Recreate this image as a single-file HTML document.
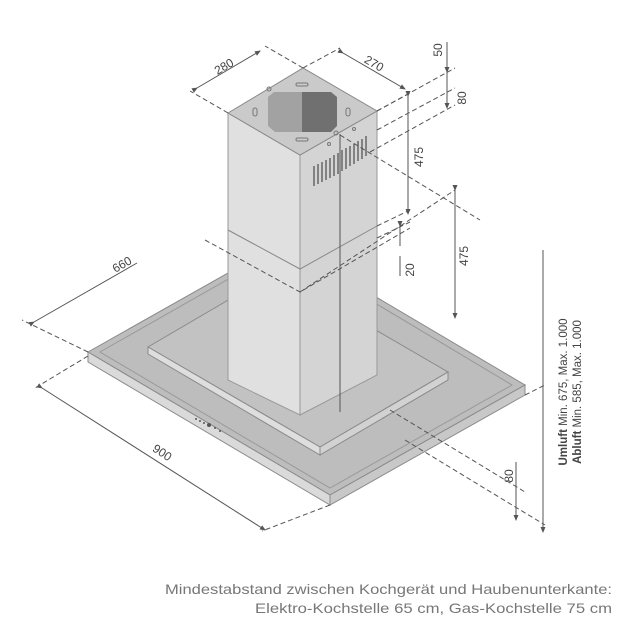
<!DOCTYPE html>
<html><head><meta charset="utf-8"><style>
html,body{margin:0;padding:0;background:#fff;}
svg{display:block;font-family:"Liberation Sans",sans-serif;}
</style></head><body>
<svg width="618" height="640" viewBox="0 0 618 640" xmlns="http://www.w3.org/2000/svg">
<defs>
<marker id="a" markerWidth="6" markerHeight="6" refX="5" refY="3" orient="auto"><path d="M0,0.5 L6,3 L0,5.5z" fill="#555"/></marker>
</defs>
<!-- canopy -->
<polygon points="88,352 283,242 525,385 330,495" fill="#bdbdbd" stroke="#8a8a8a" stroke-width="1"/>
<polygon points="88,352 330,495 330,505 88,362" fill="#dadada" stroke="#8a8a8a" stroke-width="1"/>
<polygon points="330,495 525,385 525,395 330,505" fill="#c8c8c8" stroke="#8a8a8a" stroke-width="1"/>
<polygon points="100,352 283,248 512,385 330,488" fill="none" stroke="#999" stroke-width="1"/>
<!-- inner panel -->
<polygon points="148,347 276,272 448,372 320,447" fill="#c2c2c2" stroke="#8a8a8a"/>
<polygon points="148,347 320,447 320,455 148,354" fill="#dedede" stroke="#8a8a8a"/>
<polygon points="320,447 448,372 448,380 320,455" fill="#d2d2d2" stroke="#8a8a8a"/>
<!-- buttons -->
<g fill="#555"><circle cx="196" cy="419" r="1"/><circle cx="200" cy="421" r="1"/><circle cx="204" cy="423" r="1"/><circle cx="209" cy="425" r="2"/><circle cx="215" cy="428" r="1"/><circle cx="220" cy="431" r="1"/></g>
<!-- column -->
<polygon points="228,113 300,155 300,415 228,380" fill="#e0e0e0" stroke="#999"/>
<polygon points="300,155 377,111 377,375 300,415" fill="#d4d4d4" stroke="#999"/>
<polygon points="228,113 303,68 377,111 300,155" fill="#cacaca" stroke="#888"/>
<!-- top opening -->
<polygon points="268,97 274,92 302,92 302,132 275,132 268,126" fill="#a2a2a2"/>
<polygon points="302,92 331,92 337,97 337,126 331,132 302,132" fill="#707070"/>
<g fill="none" stroke="#777" stroke-width="1"><rect x="253" y="108" width="4" height="8" rx="2"/><rect x="346" y="108" width="4" height="8" rx="2"/><rect x="296" y="83" width="12" height="3" rx="1.5"/><rect x="296" y="138" width="12" height="3" rx="1.5"/><circle cx="269" cy="89" r="2"/><circle cx="336" cy="133" r="2"/><circle cx="354" cy="129" r="1.5"/><circle cx="329" cy="144" r="1.5"/></g>
<!-- vents -->
<g stroke="#666" stroke-width="1.5">
<line x1="314" y1="166" x2="314" y2="186"/><line x1="318" y1="164" x2="318" y2="184"/><line x1="322" y1="162" x2="322" y2="182"/><line x1="326" y1="160" x2="326" y2="180"/><line x1="330" y1="158" x2="330" y2="178"/><line x1="334" y1="155" x2="334" y2="176"/><line x1="338" y1="153" x2="338" y2="174"/><line x1="342" y1="150" x2="342" y2="171"/><line x1="346" y1="148" x2="346" y2="169"/><line x1="350" y1="146" x2="350" y2="166"/><line x1="354" y1="144" x2="354" y2="164"/><line x1="358" y1="141" x2="358" y2="161"/><line x1="362" y1="139" x2="362" y2="159"/><line x1="366" y1="136" x2="366" y2="156"/>
</g>
<!-- band -->
<polyline points="228,230 300,269 377,226" fill="none" stroke="#888"/>
<g fill="none" stroke="#555" stroke-width="1" stroke-dasharray="5,3">
<polyline points="205,240 300,292 410,228"/>
<line x1="228" y1="113" x2="190" y2="91"/><line x1="303" y1="68" x2="265" y2="46"/><line x1="303" y1="68" x2="340" y2="48"/><line x1="377" y1="111" x2="412" y2="92"/>
<line x1="377" y1="111" x2="455" y2="68"/><line x1="377" y1="130" x2="455" y2="88"/><line x1="370" y1="152" x2="455" y2="105"/>
<line x1="340" y1="135" x2="480" y2="220"/>
<line x1="300" y1="292" x2="455" y2="190"/>
<line x1="377" y1="226" x2="410" y2="210"/>
<line x1="377" y1="238" x2="410" y2="222"/>
<line x1="88" y1="352" x2="22" y2="320"/><line x1="88" y1="356" x2="35" y2="388"/>
<line x1="330" y1="505" x2="262" y2="531"/>
<line x1="390" y1="410" x2="525" y2="492"/>
<line x1="525" y1="395" x2="545" y2="385"/>
<line x1="405" y1="440" x2="545" y2="525"/>
</g>
<g stroke="#555" stroke-width="1" fill="none">
<line x1="197" y1="88" x2="260" y2="51" marker-start="url(#a)" marker-end="url(#a)"/>
<line x1="343" y1="53" x2="405" y2="89" marker-start="url(#a)" marker-end="url(#a)"/>
<line x1="447" y1="42" x2="447" y2="72"/><line x1="447" y1="72" x2="447" y2="108" marker-start="url(#a)" marker-end="url(#a)"/>
<line x1="408" y1="96" x2="408" y2="214" marker-start="url(#a)" marker-end="url(#a)"/>
<line x1="340" y1="134" x2="340" y2="412"/>
<line x1="400" y1="226" x2="400" y2="246" marker-start="url(#a)"/><line x1="400" y1="256" x2="400" y2="276"/>
<line x1="455" y1="190" x2="455" y2="318" marker-start="url(#a)" marker-end="url(#a)"/>
<line x1="34" y1="322" x2="137" y2="263" marker-start="url(#a)"/>
<line x1="42" y1="388" x2="265" y2="530" marker-start="url(#a)" marker-end="url(#a)"/>
<line x1="516" y1="462" x2="516" y2="520" marker-end="url(#a)"/>
<line x1="543" y1="250" x2="543" y2="532" marker-end="url(#a)"/>
</g>
<g fill="#444" font-size="12">
<text transform="translate(226,70) rotate(-30)" text-anchor="middle">280</text>
<text transform="translate(372,67) rotate(30)" text-anchor="middle">270</text>
<text transform="translate(442,50) rotate(-90)" text-anchor="middle">50</text>
<text transform="translate(466,98) rotate(-90)" text-anchor="middle">80</text>
<text transform="translate(423,157) rotate(-90)" text-anchor="middle">475</text>
<text transform="translate(414,270) rotate(-90)" text-anchor="middle">20</text>
<text transform="translate(468,256) rotate(-90)" text-anchor="middle">475</text>
<text transform="translate(124,268) rotate(-30)" text-anchor="middle">660</text>
<text transform="translate(160,456) rotate(33)" text-anchor="middle">900</text>
<text transform="translate(513,476) rotate(-90)" text-anchor="middle">80</text>
<text transform="translate(567,392) rotate(-90)" text-anchor="middle" font-size="11.5"><tspan font-weight="bold">Umluft</tspan> Min. 675, Max. 1.000</text>
<text transform="translate(581,392) rotate(-90)" text-anchor="middle" font-size="11.5"><tspan font-weight="bold">Abluft</tspan> Min. 585, Max. 1.000</text>
</g>
<g fill="#777" font-size="14">
<text x="165" y="594" textLength="447" lengthAdjust="spacingAndGlyphs">Mindestabstand zwischen Kochgerät und Haubenunterkante:</text>
<text x="255" y="613" textLength="357" lengthAdjust="spacingAndGlyphs">Elektro-Kochstelle 65 cm, Gas-Kochstelle 75 cm</text>
</g>
</svg>
</body></html>
